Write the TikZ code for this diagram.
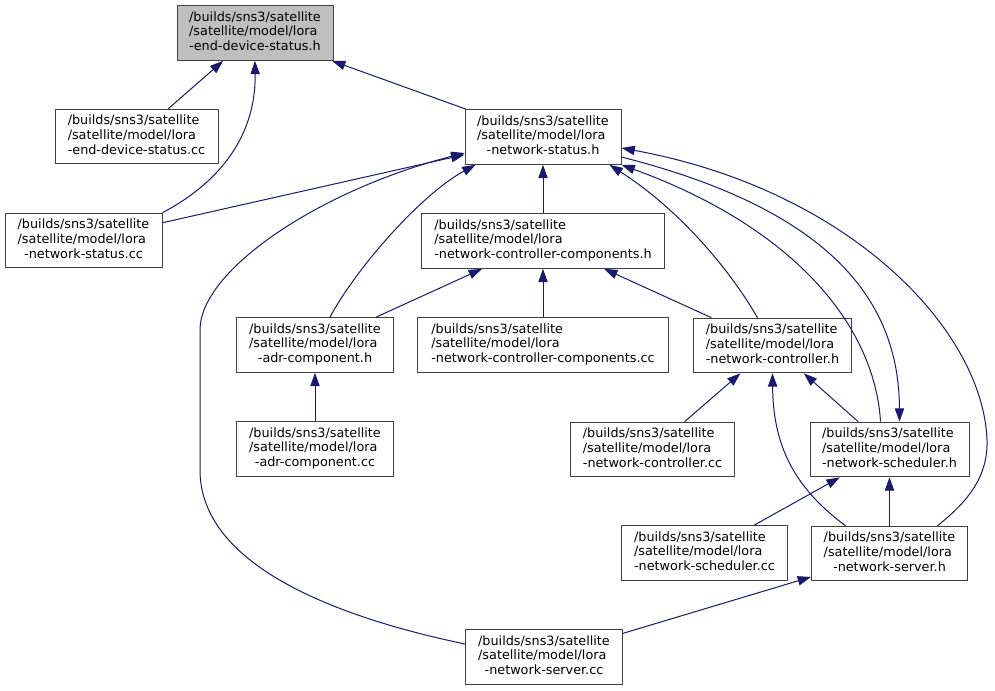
\documentclass[tikz,border=0pt]{standalone}
\usepackage{fontspec}
\setmainfont{DejaVu Sans}
\usetikzlibrary{arrows.meta,calc}
\definecolor{edgeblue}{RGB}{25,25,112}
\definecolor{nodegray}{RGB}{191,191,191}
\newcommand\flabel[1]{\begin{tabular}{@{}l@{}}/builds/sns3/satellite\\/satellite/model/lora\\\multicolumn{1}{@{}c@{}}{#1}\end{tabular}}
\tikzset{
  filebox/.style={draw=black!75, fill=white, line width=0.75pt, inner sep=0pt, rectangle, minimum height=41pt},
  rootbox/.style={filebox, fill=nodegray},
  edge/.style={draw=edgeblue, line width=0.75pt, -{Triangle[length=10pt,width=7pt]}}
}
\begin{document}
\begin{tikzpicture}[x=0.75pt, y=-0.75pt, font=\fontsize{9.6}{11}\selectfont]
\useasboundingbox (0,0) rectangle (995,691);
\fill[white] (0,0) rectangle (995,691);

\node[rootbox, minimum width=117pt]    (A) at (255,33)     {\flabel{-end-device-status.h}};
\node[filebox, minimum width=122.25pt] (B) at (136.5,136.5){\flabel{-end-device-status.cc}};
\node[filebox, minimum width=117pt]    (C) at (543,137)    {\flabel{-network-status.h}};
\node[filebox, minimum width=117.75pt] (D) at (83.5,240.5) {\flabel{-network-status.cc}};
\node[filebox, minimum width=182.25pt] (E) at (543,241)    {\flabel{-network-controller-components.h}};
\node[filebox, minimum width=117.75pt] (F) at (315,345)    {\flabel{-adr-component.h}};
\node[filebox, minimum width=188.25pt] (G) at (543,345)    {\flabel{-network-controller-components.cc}};
\node[filebox, minimum width=118.5pt]  (H) at (772.5,345.5){\flabel{-network-controller.h}};
\node[filebox, minimum width=117.75pt] (I) at (315,449)    {\flabel{-adr-component.cc}};
\node[filebox, minimum width=123pt]    (J) at (652.5,449.5){\flabel{-network-controller.cc}};
\node[filebox, minimum width=119.25pt] (K) at (889.5,449.5){\flabel{-network-scheduler.h}};
\node[filebox, minimum width=124.5pt]  (L) at (704.5,553)  {\flabel{-network-scheduler.cc}};
\node[filebox, minimum width=117pt]    (M) at (889.5,553.5){\flabel{-network-server.h}};
\node[filebox, minimum width=117.75pt] (N) at (544,657)    {\flabel{-network-server.cc}};

% straight edges
\draw[edge] (B) -- (A);
\draw[edge] (C) -- (A);
\draw[edge] (D) -- (C);
\draw[edge] (E) -- (C);
\draw[edge] (G) -- (E);
\draw[edge] (F) -- (E);
\draw[edge] (H) -- (E);
\draw[edge] (I) -- (F);
\draw[edge] (J) -- (H);
\draw[edge] (K) -- (H);
\draw[edge] (L) -- (K);
\draw[edge] (M) -- (K);
\draw[edge] (N) -- (M);

% curved edges
\draw[edge] (D.north east) .. controls (215,185) and (256,140) .. (A.south);
\draw[edge] ($(F.north)+(15,0)$) .. controls (355,270) and (420,195) .. ($(C.south west)+(11,0)$);
\draw[edge] ($(N.west)+(0,-13)$) .. controls (350,620) and (200,570) .. (200,470)
   -- (200,330) .. controls (200,270) and (320,190) .. ($(C.west)+(0,16)$);
\draw[edge] ($(H.north)+(-15,0)$) .. controls (730,270) and (680,210) .. ($(C.south east)+(-12,0)$);
\draw[edge] ($(K.north)+(-9,0)$) .. controls (875,330) and (800,230) .. (C.south east);
\draw[edge] ($(C.east)+(0,20)$) .. controls (830,210) and (899,300) .. ($(K.north)+(10,0)$);
\draw[edge] ($(M.north)+(48,0)$) .. controls (970,500) and (988,475) .. (987,440)
   .. controls (983,330) and (850,190) .. ($(C.east)+(0,11)$);
\draw[edge] ($(M.north)+(-44,0)$) .. controls (790,485) and (773,440) .. (H.south);
\end{tikzpicture}
\end{document}
